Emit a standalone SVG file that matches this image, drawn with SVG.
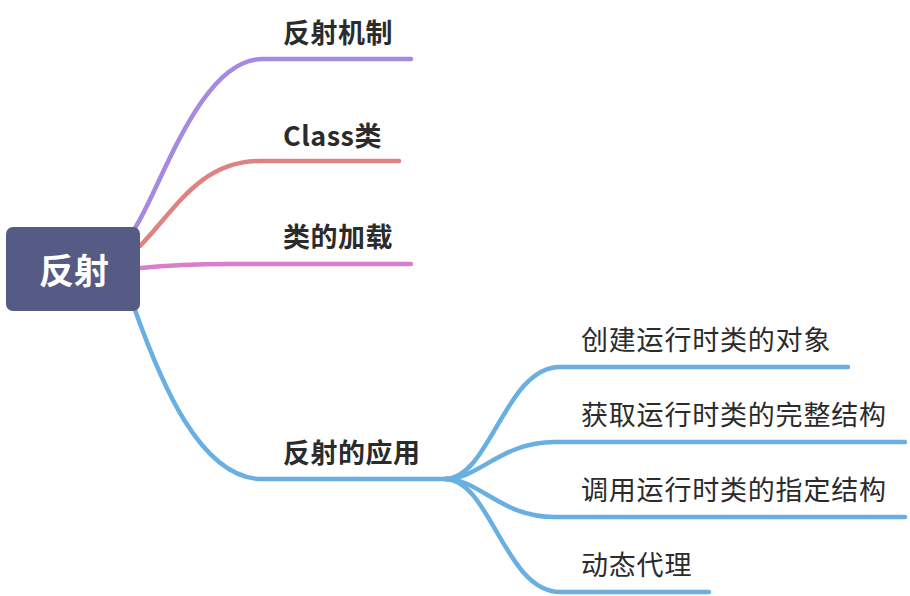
<svg xmlns="http://www.w3.org/2000/svg" width="910" height="596" viewBox="0 0 910 596">
<style>
.c{fill:none;stroke-width:4.5;stroke-linecap:round}
.m{font-family:"Noto Sans CJK SC","Noto Sans",sans-serif;font-size:27px;font-weight:600;fill:#2b2b2b;letter-spacing:0.5px}
.s{font-family:"Noto Sans CJK SC","Noto Sans",sans-serif;font-size:27px;font-weight:400;fill:#2b2b2b;letter-spacing:0.8px}
</style>
<rect width="910" height="596" fill="#ffffff"/>
<g id="connectors">
<path class="c" stroke="#a689e0" d="M135 228 C160 190,200 59,262 59 L411 59"/>
<path class="c" stroke="#e08282" d="M140 246 C175 210,200 161,260 161 L399 161"/>
<path class="c" stroke="#da7ecb" d="M140 268 C170 265,190 264,230 264 L411 264"/>
<path class="c" stroke="#6aafe2" d="M135 310 C160 380,200 479,262 479 L455 479"/>
<path class="c" stroke="#6aafe2" d="M445 479 C490 479,505 367,560 367 L848 367"/>
<path class="c" stroke="#6aafe2" d="M445 479 C480 479,500 442,555 442 L905 442"/>
<path class="c" stroke="#6aafe2" d="M445 479 C480 479,500 517,555 517 L905 517"/>
<path class="c" stroke="#6aafe2" d="M445 479 C490 479,505 592,560 592 L709 592"/>
</g>
<g id="root">
<rect x="6" y="227" width="134" height="84" rx="7" fill="#565b85"/>
<text x="74" y="284" text-anchor="middle" font-family="Noto Sans CJK SC,sans-serif" font-size="35" font-weight="700" fill="#ffffff">反射</text>
</g>
<g id="n1"><text class="m" x="283" y="43">反射机制</text></g>
<g id="n2"><text class="m" x="283" y="146">Class类</text></g>
<g id="n3"><text class="m" x="283" y="247">类的加载</text></g>
<g id="n4"><text class="m" x="283" y="463">反射的应用</text></g>
<g id="n41"><text class="s" x="581" y="350">创建运行时类的对象</text></g>
<g id="n42"><text class="s" x="581" y="425">获取运行时类的完整结构</text></g>
<g id="n43"><text class="s" x="581" y="500">调用运行时类的指定结构</text></g>
<g id="n44"><text class="s" x="581" y="575">动态代理</text></g>
</svg>
